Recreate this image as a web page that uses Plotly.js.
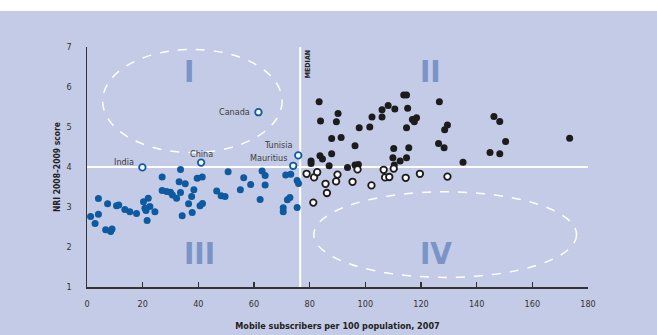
<!DOCTYPE html>
<html>
<head>
<meta charset="utf-8">
<script src="https://cdn.plot.ly/plotly-3.0.1.min.js"></script>
<style>
  html, body { margin: 0; padding: 0; background: #ffffff; }
  #chart { position: absolute; left: 0; top: 11px; width: 657px; height: 324px; }
</style>
</head>
<body>
<div id="chart"></div>
<script>
// Quadrant III: economies below median mobile penetration and below NRI 4
const lowLowX = [1.3, 2.9, 4.1, 4.1, 6.7, 8.5, 9.0, 7.4, 10.6, 11.4, 13.6, 15.4, 17.8, 20.3, 22.0, 20.8, 21.6, 22.6, 24.4, 21.2,
  27.0, 27.0, 28.6, 30.0, 30.7, 32.2, 33.1, 33.6, 33.6, 35.3, 34.2, 36.5, 37.6, 38.4, 37.8, 39.6, 41.4, 40.6, 41.5,
  46.6, 48.2, 49.6, 50.7, 55.1, 56.3, 58.8, 62.2, 62.9, 64.0, 64.0, 70.5, 70.5, 72.0, 72.9, 71.4, 73.2, 75.5, 75.5, 76.0];
const lowLowY = [2.76, 2.59, 2.82, 3.21, 2.43, 2.39, 2.45, 3.08, 3.03, 3.05, 2.94, 2.88, 2.84, 3.13, 3.22, 2.97, 2.66, 3.01, 2.88, 2.91,
  3.75, 3.41, 3.39, 3.37, 3.30, 3.22, 3.63, 3.94, 3.36, 3.58, 2.78, 3.08, 3.26, 3.43, 2.86, 3.72, 3.75, 3.03, 3.09,
  3.40, 3.28, 3.26, 3.88, 3.43, 3.73, 3.56, 3.19, 3.90, 3.79, 3.55, 2.98, 2.88, 3.18, 3.24, 3.80, 3.82, 2.99, 3.66, 3.59];

// Named economies with below-median mobile penetration
const namedLabels = ["India", "China", "Canada", "Mauritius", "Tunisia"];
const namedX = [19.9, 41.0, 61.6, 74.1, 75.9];
const namedY = [3.99, 4.11, 5.37, 4.03, 4.29];

// Quadrant II: above-median penetration, NRI above 4
const highHighX = [83.4, 83.9, 90.2, 89.6, 87.9, 91.3, 96.3, 97.8, 101.6, 102.4, 106.0, 106.0, 108.2, 110.6, 113.8, 114.8, 115.2,
  114.8, 116.9, 117.6, 118.4, 126.6, 128.5, 129.5, 126.3, 128.3, 135.1, 146.2, 148.3, 150.4, 144.8, 148.3, 173.4,
  80.5, 80.5, 83.7, 84.6, 87.9, 87.0, 93.6, 96.3, 97.5, 110.2, 115.6, 109.9, 112.5, 114.8, 110.4];
const highHighY = [5.63, 5.15, 5.34, 5.13, 4.71, 4.74, 4.53, 4.98, 5.00, 5.25, 5.43, 5.25, 5.54, 5.45, 5.80, 5.80, 5.47,
  4.98, 5.19, 5.13, 5.23, 5.63, 4.93, 5.05, 4.59, 4.48, 4.12, 5.26, 5.14, 4.64, 4.36, 4.33, 4.72,
  4.15, 4.09, 4.28, 4.20, 4.33, 4.03, 3.99, 4.05, 4.06, 4.46, 4.48, 4.23, 4.15, 4.23, 4.05];

// Above-median penetration, NRI below 4
const highLowX = [78.9, 81.6, 82.7, 85.7, 86.2, 81.3, 90.0, 89.5, 95.4, 97.2, 102.2, 106.6, 107.1, 108.6, 110.2, 114.5, 119.6, 129.5];
const highLowY = [3.83, 3.74, 3.87, 3.58, 3.35, 3.11, 3.81, 3.64, 3.63, 3.94, 3.54, 3.93, 3.74, 3.75, 3.96, 3.73, 3.83, 3.76];

// Reference lines and quadrant guides
const medianX = 76.6;
const nriCut = 4;
const quadrantNames = ["I", "II", "III", "IV"];
const quadrantX = [36.6, 123.5, 40.3, 125.4];
const quadrantY = [6.4, 6.39, 1.84, 1.85];

const xTicks = [0, 20, 40, 60, 80, 100, 120, 140, 160, 180];
const yTicks = [1, 2, 3, 4, 5, 6, 7];

const BG = "#c4cbe6";
const BLUE = "#0d5aa0";
const DARK = "#1c1c1c";
const NARROW = "'Liberation Sans Narrow', 'DejaVu Sans Condensed', 'Arial Narrow', sans-serif";

const traces = [
  { x: lowLowX, y: lowLowY, type: "scatter", mode: "markers", hoverinfo: "x+y",
    marker: { color: BLUE, size: 7, line: { width: 0 } } },
  { x: namedX, y: namedY, text: namedLabels, type: "scatter", mode: "markers", hoverinfo: "text+x+y",
    marker: { color: "#ffffff", size: 6.5, line: { color: BLUE, width: 1.8 } } },
  { x: highHighX, y: highHighY, type: "scatter", mode: "markers", hoverinfo: "x+y",
    marker: { color: DARK, size: 7, line: { width: 0 } } },
  { x: highLowX, y: highLowY, type: "scatter", mode: "markers", hoverinfo: "x+y",
    marker: { color: "#ffffff", size: 6.5, line: { color: DARK, width: 1.8 } } }
];

// Label offsets for the named economies (pixels)
const labelShift = {
  India:     { xanchor: "right",  xshift: -6, yshift: 5 },
  China:     { xanchor: "center", xshift: 0,  yshift: 9 },
  Canada:    { xanchor: "right",  xshift: -6, yshift: 0 },
  Mauritius: { xanchor: "right",  xshift: -4, yshift: 8 },
  Tunisia:   { xanchor: "right",  xshift: -3, yshift: 10 }
};

const annotations = namedLabels.map((name, i) => ({
  x: namedX[i], y: namedY[i], xref: "x", yref: "y", text: name, showarrow: false,
  xanchor: labelShift[name].xanchor, yanchor: "middle",
  xshift: labelShift[name].xshift, yshift: labelShift[name].yshift,
  font: { family: NARROW, size: 9, color: "#3d3d3d" }
}));

quadrantNames.forEach((q, i) => {
  annotations.push({
    x: quadrantX[i], y: quadrantY[i], xref: "x", yref: "y", text: "<b>" + q + "</b>", showarrow: false,
    xanchor: "center", yanchor: "middle",
    font: { family: NARROW, size: 31, color: "#7b94c7" }
  });
});

annotations.push({
  x: medianX, y: 7, xref: "x", yref: "y", text: "<b>MEDIAN</b>", showarrow: false, textangle: -90,
  xanchor: "left", yanchor: "top", xshift: 2, yshift: -1,
  font: { family: NARROW, size: 7, color: "#222222" }
});

const shapes = [
  { type: "line", layer: "below", xref: "x", yref: "y", x0: 0, x1: 180, y0: nriCut, y1: nriCut,
    line: { color: "#ffffff", width: 2 } },
  { type: "line", layer: "below", xref: "x", yref: "y", x0: medianX, x1: medianX, y0: 1, y1: 7,
    line: { color: "#ffffff", width: 2 } },
  { type: "circle", layer: "below", xref: "x", yref: "y", x0: 5.6, x1: 70.1, y0: 4.36, y1: 6.94,
    line: { color: "#ffffff", width: 1.5, dash: "dash" } },
  { type: "circle", layer: "below", xref: "x", yref: "y", x0: 81.5, x1: 175.9, y0: 1.24, y1: 3.38,
    line: { color: "#ffffff", width: 1.5, dash: "dash" } }
];

const layout = {
  width: 657, height: 324,
  margin: { l: 87.2, r: 68.5, t: 36, b: 48, pad: 0 },
  paper_bgcolor: BG, plot_bgcolor: BG,
  showlegend: false,
  font: { family: NARROW, color: "#333333" },
  xaxis: {
    range: [0, 180], tickvals: xTicks, ticktext: xTicks.map(String),
    showgrid: false, zeroline: false, showline: true, linecolor: "#333333", linewidth: 1.5,
    ticks: "inside", ticklen: 5, tickwidth: 1.3, tickcolor: "#333333",
    tickfont: { family: NARROW, size: 9, color: "#333333" },
    ticklabelstandoff: 8,
    title: { text: "<b>Mobile subscribers per 100 population, 2007</b>", standoff: 14,
      font: { family: NARROW, size: 9, color: "#222222" } }
  },
  yaxis: {
    range: [1, 7], tickvals: yTicks, ticktext: yTicks.map(String),
    showgrid: false, zeroline: false, showline: true, linecolor: "#333333", linewidth: 1.5,
    ticks: "", tickfont: { family: NARROW, size: 9, color: "#333333" },
    ticklabelstandoff: 12,
    title: { text: "<b>NRI 2008–2009 score</b>", standoff: 4,
      font: { family: NARROW, size: 8.5, color: "#222222" } }
  },
  shapes: shapes,
  annotations: annotations
};

Plotly.newPlot("chart", traces, layout, { displayModeBar: false, staticPlot: true });
</script>
</body>
</html>
